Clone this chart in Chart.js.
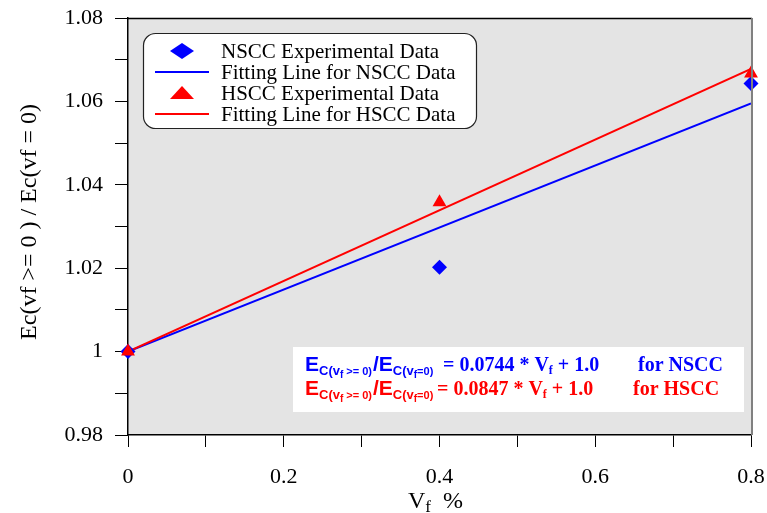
<!DOCTYPE html>
<html>
<head>
<meta charset="utf-8">
<script src="https://cdn.jsdelivr.net/npm/chart.js@4/dist/chart.umd.min.js"></script>
<style>
  body { margin: 0; background: #fff; }
  #myChart { display: block; }
</style>
</head>
<body>
<canvas id="myChart" width="767" height="513"></canvas>
<script>
// data
const vf = [0, 0.4, 0.8];
const nsccExp = [1.0, 1.0202, 1.0643];
const hsccExp = [1.0, 1.0358, 1.0667];
const fitVf = [0, 0.8];
const nsccFit = [1.0, 1.0595];
const hsccFit = [1.0, 1.0678];
const seriesNames = ['NSCC Experimental Data', 'Fitting Line for NSCC Data', 'HSCC Experimental Data', 'Fitting Line for HSCC Data'];
const xTitle = 'V';
const yTitle = 'Ec(vf >= 0 ) / Ec(vf = 0)';

const blue = '#0000ff';
const red = '#ff0000';
const serif = '"Liberation Serif", "Times New Roman", serif';
const sans = '"Liberation Sans", Arial, sans-serif';

function pts(xs, ys) {
  return xs.map(function (x, i) { return { x: x, y: ys[i] }; });
}

// draws a run of text pieces one after another
function drawRun(ctx, x, y, parts, color) {
  ctx.fillStyle = color;
  ctx.textAlign = 'left';
  ctx.textBaseline = 'alphabetic';
  parts.forEach(function (p) {
    ctx.font = p.font;
    ctx.fillText(p.t, x, y + (p.dy || 0));
    x += ctx.measureText(p.t).width;
  });
  return x;
}

// E with the C(vf ...) subscript
function eBlock(ctx, x, y, color, lead, rel) {
  x = drawRun(ctx, x, y, [{ t: lead, font: 'bold 21px ' + sans }], color);
  return drawRun(ctx, x, y, [
    { t: 'C(v', font: 'bold 13px ' + sans, dy: 4 },
    { t: 'f', font: 'bold 10px ' + sans, dy: 7 },
    { t: rel, font: 'bold 11px ' + sans, dy: 4 }
  ], color);
}

function eqLine(ctx, y, color, rest, restX, tail, tailX) {
  eBlock(ctx, 305, y, color, 'E', ' >= 0)');
  eBlock(ctx, 373, y, color, '/E', '=0)');
  drawRun(ctx, restX, y, [
    { t: rest, font: 'bold 20px ' + serif },
    { t: 'f', font: 'bold 12px ' + serif, dy: 3 },
    { t: ' + 1.0', font: 'bold 20px ' + serif }
  ], color);
  drawRun(ctx, tailX, y, [{ t: tail, font: 'bold 20px ' + serif }], color);
}

const decor = {
  id: 'decor',
  beforeDraw: function (chart) {
    const a = chart.chartArea;
    const ctx = chart.ctx;
    ctx.save();
    ctx.fillStyle = '#e4e4e4';
    ctx.fillRect(a.left, a.top, a.right - a.left, a.bottom - a.top);
    ctx.restore();
  },
  afterDraw: function (chart) {
    const a = chart.chartArea;
    const ctx = chart.ctx;
    ctx.save();
    // frame top and right
    ctx.strokeStyle = '#000';
    ctx.lineWidth = 1.5;
    ctx.beginPath();
    ctx.moveTo(a.left, a.top + 0.5);
    ctx.lineTo(a.right + 1, a.top + 0.5);
    ctx.stroke();
    ctx.strokeStyle = '#808080';
    ctx.lineWidth = 2;
    ctx.beginPath();
    ctx.moveTo(a.right + 1, a.top);
    ctx.lineTo(a.right + 1, a.bottom);
    ctx.stroke();

    // legend box
    ctx.fillStyle = '#fff';
    ctx.strokeStyle = '#222';
    ctx.lineWidth = 1.2;
    ctx.beginPath();
    ctx.roundRect(143.5, 33.5, 333, 95, 12);
    ctx.fill();
    ctx.stroke();

    const rows = [51, 72, 93, 114];
    // diamond
    ctx.fillStyle = blue;
    ctx.beginPath();
    ctx.moveTo(170, rows[0]);
    ctx.lineTo(182, rows[0] - 8);
    ctx.lineTo(194, rows[0]);
    ctx.lineTo(182, rows[0] + 8);
    ctx.closePath();
    ctx.fill();
    // triangle
    ctx.fillStyle = red;
    ctx.beginPath();
    ctx.moveTo(170, rows[2] + 6);
    ctx.lineTo(182, rows[2] - 7);
    ctx.lineTo(194, rows[2] + 6);
    ctx.closePath();
    ctx.fill();
    ctx.lineWidth = 2;
    ctx.strokeStyle = blue;
    ctx.beginPath();
    ctx.moveTo(155, rows[1]);
    ctx.lineTo(209, rows[1]);
    ctx.stroke();
    ctx.strokeStyle = red;
    ctx.beginPath();
    ctx.moveTo(155, rows[3]);
    ctx.lineTo(209, rows[3]);
    ctx.stroke();

    ctx.fillStyle = '#000';
    ctx.font = '21px ' + serif;
    ctx.textBaseline = 'middle';
    ctx.textAlign = 'left';
    seriesNames.forEach(function (s, i) {
      ctx.fillText(s, 221, rows[i] + 1);
    });

    // equation box
    ctx.fillStyle = '#fff';
    ctx.fillRect(293, 347, 451, 65);
    eqLine(ctx, 371, blue, '= 0.0744 * V', 443, 'for NSCC', 638);
    eqLine(ctx, 395, red, '= 0.0847 * V', 437, 'for HSCC', 633);

    // axis titles
    drawRun(ctx, 408, 508, [
      { t: xTitle, font: '24px ' + serif },
      { t: 'f', font: '17px ' + serif, dy: 4 },
      { t: '  %', font: '24px ' + serif }
    ], '#000');

    ctx.translate(36, 222);
    ctx.rotate(-Math.PI / 2);
    ctx.fillStyle = '#000';
    ctx.font = '24px ' + serif;
    ctx.textAlign = 'center';
    ctx.textBaseline = 'alphabetic';
    ctx.fillText(yTitle, 0, 0);
    ctx.restore();
  }
};

new Chart(document.getElementById('myChart'), {
  type: 'scatter',
  data: {
    datasets: [{
      label: seriesNames[2],
      data: pts(vf, hsccExp),
      pointStyle: 'triangle',
      pointRadius: 8,
      backgroundColor: red,
      borderColor: red,
      borderWidth: 0,
      clip: false,
      order: 0
    }, {
      label: seriesNames[0],
      data: pts(vf, nsccExp),
      pointStyle: 'rectRot',
      pointRadius: 7.5,
      backgroundColor: blue,
      borderColor: blue,
      borderWidth: 0,
      clip: false,
      order: 1
    }, {
      type: 'line',
      label: seriesNames[3],
      data: pts(fitVf, hsccFit),
      borderColor: red,
      borderWidth: 2,
      pointRadius: 0,
      fill: false,
      order: 2
    }, {
      type: 'line',
      label: seriesNames[1],
      data: pts(fitVf, nsccFit),
      borderColor: blue,
      borderWidth: 2,
      pointRadius: 0,
      fill: false,
      order: 3
    }]
  },
  options: {
    responsive: false,
    animation: false,
    devicePixelRatio: 1,
    layout: { padding: { top: 18, right: 16, left: 0, bottom: 0 } },
    plugins: { legend: { display: false }, tooltip: { enabled: false } },
    scales: {
      x: {
        type: 'linear',
        min: 0,
        max: 0.8,
        afterFit: function (s) {
          s.height = 78;
          s.paddingLeft = 0;
          s.paddingRight = 0;
        },
        border: { color: '#000', width: 1.5 },
        grid: { drawOnChartArea: false, tickLength: 12, color: '#000' },
        ticks: {
          stepSize: 0.1,
          padding: 17,
          maxRotation: 0,
          autoSkip: false,
          color: '#000',
          font: { family: serif, size: 22 },
          callback: function (v) {
            return Math.round(v * 10) % 2 === 0 ? String(Number(v.toFixed(1))) : '';
          }
        }
      },
      y: {
        min: 0.98,
        max: 1.08,
        afterFit: function (s) {
          s.width = 128;
          s.paddingTop = 0;
          s.paddingBottom = 0;
        },
        border: { color: '#000', width: 1.5 },
        grid: { drawOnChartArea: false, tickLength: 13, color: '#000' },
        ticks: {
          stepSize: 0.01,
          padding: 12,
          autoSkip: false,
          color: '#000',
          font: { family: serif, size: 22 },
          callback: function (v) {
            return Math.round(v * 100) % 2 === 0 ? String(Number(v.toFixed(2))) : '';
          }
        }
      }
    }
  },
  plugins: [decor]
});
</script>
</body>
</html>
